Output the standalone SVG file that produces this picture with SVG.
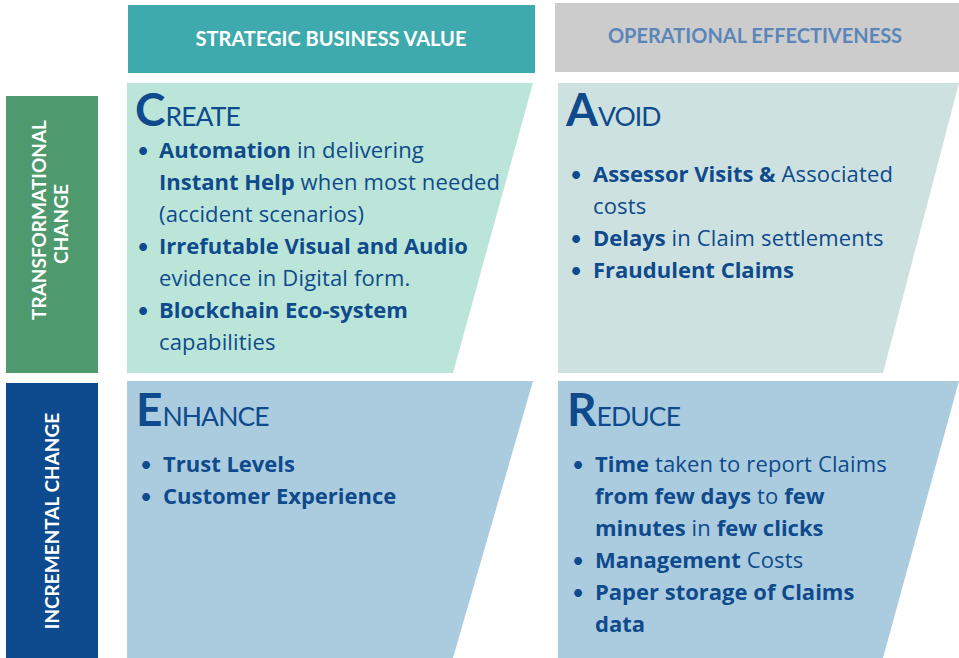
<svg xmlns="http://www.w3.org/2000/svg" width="959" height="658" viewBox="0 0 959 658">
<style>
text{font-family:Lato,"Open Sans","Liberation Sans",sans-serif;}
.hd{font-size:20px;font-weight:700;text-anchor:middle;}
.side{font-size:19px;font-weight:700;fill:#fff;text-anchor:middle;}
.big{font-size:46px;font-weight:700;fill:#0E4A8C;}
.sc{font-size:26.5px;font-weight:400;fill:#0E4A8C;letter-spacing:-0.9px;}
.b{font-family:"Open Sans",Lato,sans-serif;font-size:22px;fill:#0E4A8C;font-weight:400;letter-spacing:0.15px;}
.b tspan.k{font-weight:700;letter-spacing:0;}
.bul{font-size:21px;fill:#0E4A8C;}
</style>
<rect width="959" height="658" fill="#fff"/>
<g id="hdr-strategic">
<rect x="128" y="5" width="407" height="68" fill="#3EAAAD"/>
<text class="hd" x="331" y="46" fill="#fff">STRATEGIC BUSINESS VALUE</text>
</g>
<g id="hdr-operational">
<rect x="555" y="3" width="404" height="69" fill="#CCCCCC"/>
<text class="hd" x="755" y="43" fill="#5B86B8">OPERATIONAL EFFECTIVENESS</text>
</g>
<g id="row-transformational">
<rect x="6" y="96" width="92" height="277" fill="#4E9A6E"/>
<text class="side" transform="translate(46,220) rotate(-90)">TRANSFORMATIONAL</text>
<text class="side" transform="translate(68,224) rotate(-90)">CHANGE</text>
</g>
<g id="row-incremental">
<rect x="6" y="383" width="92" height="275" fill="#0E4A8E"/>
<text class="side" transform="translate(59,521) rotate(-90)">INCREMENTAL CHANGE</text>
</g>
<g id="create">
<polygon points="127,83 533,83 453,373 127,373" fill="#BBE5D8"/>
<text x="135" y="126"><tspan class="big">C</tspan><tspan class="sc">REATE</tspan></text>
<text class="bul" x="137" y="158">•</text>
<text class="b" x="159" y="158"><tspan class="k">Automation</tspan> in delivering</text>
<text class="b" x="159" y="190"><tspan class="k">Instant Help</tspan> when most needed</text>
<text class="b" x="159" y="222">(accident scenarios)</text>
<text class="bul" x="137" y="254">•</text>
<text class="b" x="159" y="254"><tspan class="k">Irrefutable Visual and Audio</tspan></text>
<text class="b" x="159" y="286">evidence in Digital form.</text>
<text class="bul" x="137" y="318">•</text>
<text class="b" x="159" y="318"><tspan class="k">Blockchain Eco-system</tspan></text>
<text class="b" x="159" y="350">capabilities</text>
</g>
<g id="avoid">
<polygon points="558,83 959,83 883,373 558,373" fill="#CDE1E0"/>
<text x="566" y="126"><tspan class="big">A</tspan><tspan class="sc">VOID</tspan></text>
<text class="bul" x="570" y="182">•</text>
<text class="b" x="593" y="182"><tspan class="k">Assessor Visits &amp;</tspan> Associated</text>
<text class="b" x="593" y="214">costs</text>
<text class="bul" x="570" y="246">•</text>
<text class="b" x="593" y="246"><tspan class="k">Delays</tspan> in Claim settlements</text>
<text class="bul" x="570" y="278">•</text>
<text class="b" x="593" y="278"><tspan class="k">Fraudulent Claims</tspan></text>
</g>
<g id="enhance">
<polygon points="127,381 533,381 453,658 127,658" fill="#ABCCDF"/>
<text x="136" y="426"><tspan class="big">E</tspan><tspan class="sc">NHANCE</tspan></text>
<text class="bul" x="140" y="472">•</text>
<text class="b" x="163" y="472"><tspan class="k">Trust Levels</tspan></text>
<text class="bul" x="140" y="504">•</text>
<text class="b" x="163" y="504"><tspan class="k">Customer Experience</tspan></text>
</g>
<g id="reduce">
<polygon points="558,381 959,381 883,658 558,658" fill="#ABCCDF"/>
<text x="567" y="426"><tspan class="big">R</tspan><tspan class="sc">EDUCE</tspan></text>
<text class="bul" x="572" y="472">•</text>
<text class="b" x="595" y="472"><tspan class="k">Time</tspan> taken to report Claims</text>
<text class="b" x="595" y="504"><tspan class="k">from few days</tspan> to <tspan class="k">few</tspan></text>
<text class="b" x="595" y="536"><tspan class="k">minutes</tspan> in <tspan class="k">few clicks</tspan></text>
<text class="bul" x="572" y="568">•</text>
<text class="b" x="595" y="568"><tspan class="k">Management</tspan> Costs</text>
<text class="bul" x="572" y="600">•</text>
<text class="b" x="595" y="600"><tspan class="k">Paper storage of Claims</tspan></text>
<text class="b" x="595" y="632"><tspan class="k">data</tspan></text>
</g>
<g id="connectors"/>
</svg>
